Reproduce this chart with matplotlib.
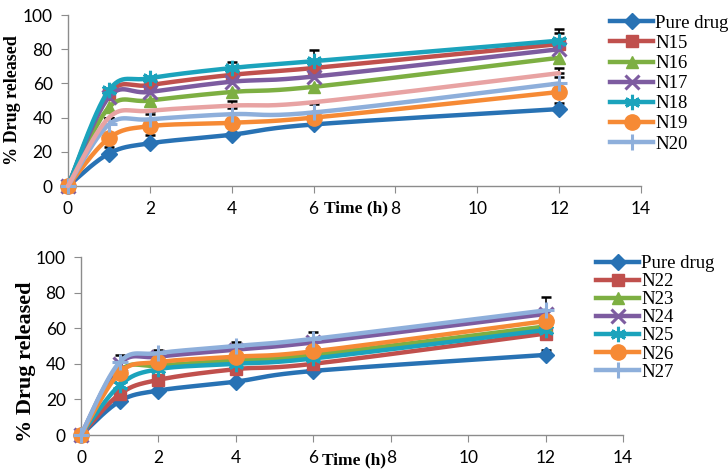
import numpy as np
import matplotlib
matplotlib.use("Agg")
from matplotlib import pyplot as plt

time = [0, 1, 2, 4, 6, 12]

# top panel
top_names = ['Pure drug', 'N15', 'N16', 'N17', 'N18', 'N19', 'N20', '']
top_vals = [
    [0, 19, 25, 30, 36, 45],
    [0, 54, 59, 65, 69, 83],
    [0, 46, 50, 55, 58, 75],
    [0, 52, 55, 61, 64, 80],
    [0, 56, 63, 69, 73, 85],
    [0, 28, 35, 37, 40, 55],
    [0, 36, 39, 42, 43, 60],
    [0, 40, 44, 47, 49, 66],
]
top_err = [
    [0, 4, 5, 0, 0, 3.5],
    [0, 0, 0, 0, 0, 6.5],
    [0, 0, 0, 0, 0, 0],
    [0, 0, 0, 0, 0, 0],
    [0, 0, 0, 3.5, 6.5, 7],
    [0, 0, 0, 0, 0, 0],
    [0, 4, 3, 3.5, 5, 4],
    [0, 0, 0, 3, 0, 3],
]

# bottom panel
bot_names = ['Pure drug', 'N22', 'N23', 'N24', 'N25', 'N26', 'N27']
bot_vals = [
    [0, 19, 25, 30, 36, 45],
    [0, 23, 31, 37, 40, 57],
    [0, 36, 39, 42, 45, 61],
    [0, 40, 44, 48, 52, 68],
    [0, 28, 37, 40, 43, 59],
    [0, 35, 41, 44, 47, 64],
    [0, 41, 46, 50, 54, 70],
]
bot_err = [
    [0, 0, 0, 0, 0, 3],
    [0, 0, 0, 0, 0, 0],
    [0, 0, 0, 0, 0, 0],
    [0, 0, 0, 0, 0, 0],
    [0, 0, 0, 0, 0, 0],
    [0, 0, 0, 0, 0, 0],
    [0, 4, 2, 2, 4, 7.5],
]

colors = ['#2872B4', '#C0504D', '#7DAF42', '#7D5CA0', '#1BA3BC', '#F68A35', '#8EAFDB', '#E8A3A3']
markers = ['D', 's', '^', 'x', (6, 2, 0), 'o', '+', None]
msizes = [8, 9, 9, 10, 11, 11, 11, 0]


def smooth(x, y, n=30):
    # excel style smoothed line (bezier through the points)
    x = np.asarray(x, float)
    y = np.asarray(y, float)
    px = np.concatenate([[x[0]], x, [x[-1]]])
    py = np.concatenate([[y[0]], y, [y[-1]]])
    xs, ys = [], []
    t = np.linspace(0, 1, n)
    for i in range(len(x) - 1):
        p0 = np.array([px[i + 1], py[i + 1]])
        p3 = np.array([px[i + 2], py[i + 2]])
        c1 = p0 + (p3 - np.array([px[i], py[i]])) / 6
        c2 = p3 - (np.array([px[i + 3], py[i + 3]]) - p0) / 6
        b = ((1 - t) ** 3)[:, None] * p0 + (3 * (1 - t) ** 2 * t)[:, None] * c1 \
            + (3 * (1 - t) * t ** 2)[:, None] * c2 + (t ** 3)[:, None] * p3
        xs.extend(b[:, 0])
        ys.extend(b[:, 1])
    return xs, ys


def thick(m):
    return 2.2 if m in ('x', '+') or isinstance(m, tuple) else 1


def panel(ax, names, vals, errs, leg_pos, lspace, xlab_xy, ylab_xy, ylab_size):
    handles = []
    for i in range(len(vals)):
        c = colors[i]
        sx, sy = smooth(time, vals[i])
        ax.plot(sx, sy, color=c, lw=3.2, solid_capstyle='round', clip_on=False, zorder=2 + i)
        if markers[i] is not None:
            ax.plot(time, vals[i], ls='none', marker=markers[i], ms=msizes[i], color=c,
                    mew=thick(markers[i]), clip_on=False, zorder=2 + i)
        e = np.array(errs[i])
        if e.any():
            ax.errorbar(time, vals[i], yerr=[np.zeros_like(e), e], fmt='none', ecolor='black',
                        elinewidth=1.2, capsize=3.5, capthick=1.8, zorder=1.5)
        if names[i]:
            h, = ax.plot([], [], color=c, lw=3.2, marker=markers[i], ms=msizes[i],
                         mew=thick(markers[i]))
            handles.append((h, names[i]))

    ax.set_xlim(0, 14)
    ax.set_ylim(0, 100)
    ax.set_xticks(range(0, 15, 2))
    ax.set_yticks(range(0, 101, 20))
    for s in ['top', 'right']:
        ax.spines[s].set_visible(False)
    for s in ['left', 'bottom']:
        ax.spines[s].set_color('#8c8c8c')
        ax.spines[s].set_linewidth(1.0)
    ax.tick_params(colors='#8c8c8c', length=5, labelcolor='black', labelsize=12.5, pad=6)
    for lab in ax.get_xticklabels() + ax.get_yticklabels():
        lab.set_family('Lato')

    ax.set_ylabel('% Drug released', family='Liberation Serif', weight='bold', fontsize=ylab_size)
    ax.yaxis.set_label_coords(ylab_xy[0], ylab_xy[1])
    ax.set_xlabel('Time (h)', family='Liberation Serif', weight='bold', fontsize=12.5)
    ax.xaxis.set_label_coords(xlab_xy[0], xlab_xy[1])

    fig.legend([h for h, _ in handles], [n for _, n in handles], loc='upper left',
               bbox_to_anchor=leg_pos, frameon=False, borderpad=0, borderaxespad=0,
               handlelength=2.3, handletextpad=0.1, labelspacing=lspace,
               prop={'family': 'Liberation Serif', 'size': 13.5})


fig = plt.figure(figsize=(7.28, 4.75), dpi=100)
ax1 = fig.add_axes([0.0934, 0.6084, 0.7871, 0.36])
ax2 = fig.add_axes([0.1113, 0.0842, 0.7445, 0.3747])

panel(ax1, top_names, top_vals, top_err, (0.838, 0.969), 0.16,
      (0.502, -0.085), (-0.082, 0.5), 13)
panel(ax2, bot_names, bot_vals, bot_err, (0.819, 0.463), 0.05,
      (0.503, -0.095), (-0.083, 0.41), 16)

fig.savefig('out.png', dpi=100)
